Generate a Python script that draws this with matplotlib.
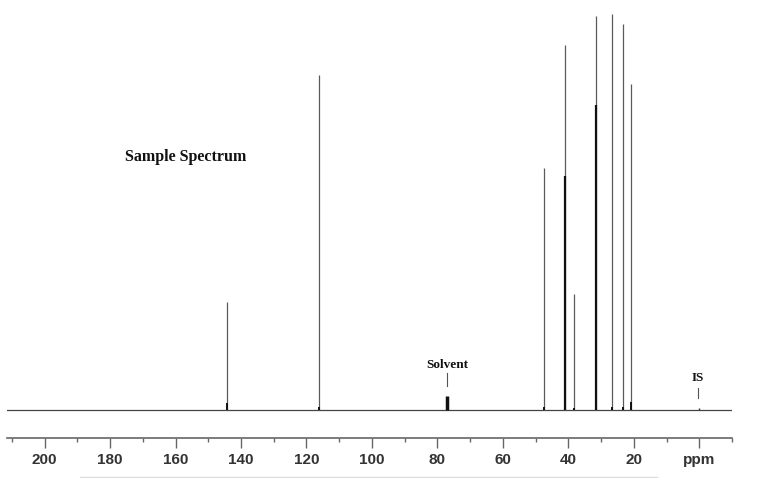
import matplotlib.pyplot as plt
from matplotlib.lines import Line2D

# peak positions (ppm) and heights
peak_ppm = [144.3, 116.2, 47.4, 40.9, 38.2, 31.5, 26.6, 23.3, 21.0]
peak_height = [108, 335, 242, 365, 116, 394, 396, 386, 326]

# darker overlapping peaks (second trace)
dark_ppm = [40.9, 31.5]
dark_height = [234, 305]

# small features
solvent_ppm = [77.0]
solvent_height = [14]
is_ppm = [0.0]
is_height = [2]
base_ppm = [144.3, 116.2, 47.4, 40.9, 38.2, 31.5, 26.6, 23.3, 21.0]
base_height = [7, 3, 3, 3, 2, 5, 3, 3, 8]

major_ticks = [200, 180, 160, 140, 120, 100, 80, 60, 40, 20, 0]
major_labels = ['200', '180', '160', '140', '120', '100', '80', '60', '40', '20', 'ppm']
minor_ticks = [210, 190, 170, 150, 130, 110, 90, 70, 50, 30, 10, -10]

fig = plt.figure(figsize=(7.63, 4.78), dpi=100)
ax = fig.add_axes([7 / 763, 40 / 478, 725 / 763, 438 / 478])

# baseline
ax.plot([211.5, -10], [0, 0], color='#444444', lw=0.9)
ax.vlines(peak_ppm, 0, peak_height, color='#5a5a5a', lw=0.9)
ax.vlines(dark_ppm, 0, dark_height, color='#111111', lw=1.6)
ax.vlines(base_ppm, 0, base_height, color='#111111', lw=1.4)
ax.vlines(solvent_ppm, 0, solvent_height, color='#111111', lw=2.5)
ax.vlines(is_ppm, 0, is_height, color='#333333', lw=1.0)

ax.set_xlim(211.5, -10)
ax.set_ylim(-28, 410)

serif = ['Liberation Serif', 'DejaVu Serif']
ax.text(156.8, 253, 'Sample Spectrum', family=serif, fontweight='bold',
        fontsize=11.5, ha='center', va='center', color='#111111')
ax.text(77.1, 45, 'Solvent', family=serif, fontweight='bold',
        fontsize=9.5, ha='center', va='center', color='#111111')
ax.plot([77.0, 77.0], [24, 37], color='#555555', lw=0.8)
ax.text(0.5, 32, 'IS', family=serif, fontweight='bold',
        fontsize=9.5, ha='center', va='center', color='#111111')
ax.plot([0.3, 0.3], [12, 22], color='#555555', lw=0.8)

for s in ['top', 'left', 'right']:
    ax.spines[s].set_visible(False)
ax.spines['bottom'].set_color('#666666')
ax.spines['bottom'].set_linewidth(1.2)
ax.set_yticks([])
ax.set_xticks(major_ticks)
ax.set_xticklabels(major_labels)
ax.set_xticks(minor_ticks, minor=True)
ax.tick_params(axis='x', which='major', length=7, width=1.0, color='#666666',
               pad=4, labelsize=11, labelcolor='#333333')
ax.tick_params(axis='x', which='minor', length=3, width=1.0, color='#666666')
for lab in ax.get_xticklabels():
    lab.set_fontfamily(['Liberation Sans', 'DejaVu Sans'])
    lab.set_fontweight('bold')

# faint line along the bottom edge
fig.add_artist(Line2D([80 / 763, 657 / 763], [1.5 / 478, 1.5 / 478],
                      transform=fig.transFigure, color='#dddddd', lw=1.0))

fig.savefig('out.png', dpi=100)
